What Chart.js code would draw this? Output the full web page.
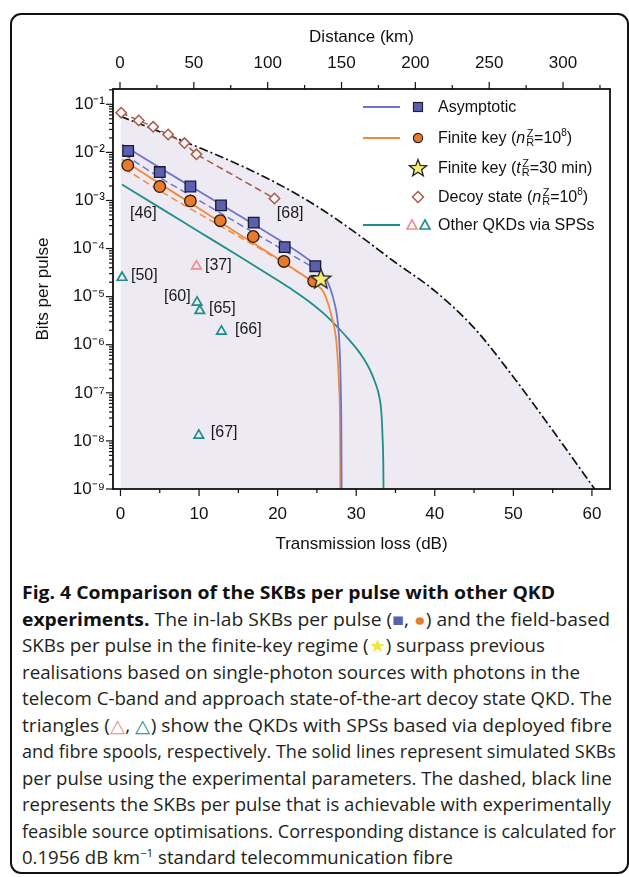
<!DOCTYPE html>
<html><head><meta charset="utf-8">
<script src="https://cdn.jsdelivr.net/npm/chart.js@4.4.0/dist/chart.umd.min.js"></script>
<style>
body{margin:0;background:#fff;width:629px;height:877px;overflow:hidden;position:relative;font-family:"Liberation Sans",Arial,sans-serif;color:#111;}
#frame{position:absolute;left:10px;top:13px;width:619px;height:861px;border:2px solid #111;border-radius:11px;box-sizing:border-box;}
#wrap{position:absolute;left:0;top:0;width:629px;height:570px;}
#legend{position:absolute;left:0;top:0;}
.lline{position:absolute;height:2px;width:37px;left:363px;}
.lmark{position:absolute;}
.ltext{position:absolute;left:438px;font-size:16px;white-space:nowrap;line-height:20px;color:#111;}
.ss{display:inline-block;vertical-align:middle;font-size:11px;line-height:9px;text-align:center;margin:0 0 0 1px;position:relative;top:-1px}
.ss span{display:block}
.ltext sup{font-size:10px;vertical-align:7px;line-height:0}
.cap{position:absolute;left:22px;font-family:"Open Sans",sans-serif;font-size:17.5px;white-space:nowrap;transform-origin:0 50%;color:#231f20;line-height:26px;height:26px;}
.cap b{font-weight:700;color:#111}
.cap sup{font-size:11px;vertical-align:7px;line-height:0}
</style></head>
<body>
<div id="frame"></div>
<div id="wrap"><canvas id="c" width="629" height="570"></canvas></div>
<div id="legend">
  <div class="lline" style="top:106px;background:#6D75C9"></div>
  <svg class="lmark" style="left:412px;top:101px" width="12" height="12"><rect x="1.5" y="1.5" width="9" height="9" fill="#5A5FAF" stroke="#222" stroke-width="1.2"/></svg>
  <div class="ltext" style="top:97px">Asymptotic</div>

  <div class="lline" style="top:137px;background:#F28A3C"></div>
  <svg class="lmark" style="left:412px;top:132px" width="12" height="12"><circle cx="6" cy="6" r="4.6" fill="#E9792C" stroke="#222" stroke-width="1.2"/></svg>
  <div class="ltext" style="top:128px">Finite key (<i>n</i><span class="ss"><span>Z</span><span>R</span></span>=10<sup>8</sup>)</div>

  <svg class="lmark" style="left:407px;top:157px" width="22" height="22"><polygon id="lstar" fill="#F4EE70" stroke="#222" stroke-width="1.3"/></svg>
  <div class="ltext" style="top:158px">Finite key (<i>t</i><span class="ss"><span>Z</span><span>R</span></span>=30 min)</div>

  <svg class="lmark" style="left:411px;top:190px" width="14" height="14"><polygon points="7,1.5 12.5,7 7,12.5 1.5,7" fill="#fff" stroke="#A65A4E" stroke-width="1.5"/></svg>
  <div class="ltext" style="top:187px">Decoy state (<i>n</i><span class="ss"><span>Z</span><span>R</span></span>=10<sup>8</sup>)</div>

  <div class="lline" style="top:224px;background:#1D8E89"></div>
  <svg class="lmark" style="left:405px;top:218px" width="28" height="14"><polygon points="7,2 12,11 2,11" fill="none" stroke="#EE8C94" stroke-width="1.6"/><polygon points="20,2 25,11 15,11" fill="none" stroke="#1D8E89" stroke-width="1.6"/></svg>
  <div class="ltext" style="top:215px">Other QKDs via SPSs</div>
</div>

<div class="cap" style="top:579px"><b>Fig. 4 Comparison of the SKBs per pulse with other QKD</b></div>
<div class="cap" style="top:605.5px"><b>experiments.</b> The in-lab SKBs per pulse (<span style="color:#5A5FAF">■</span>, <span style="color:#E9792C">●</span>) and the field-based</div>
<div class="cap" style="top:632px">SKBs per pulse in the finite-key regime (<span style="color:#F2E43C">★</span>) surpass previous</div>
<div class="cap" style="top:658.5px">realisations based on single-photon sources with photons in the</div>
<div class="cap" style="top:685px">telecom C-band and approach state-of-the-art decoy state QKD. The</div>
<div class="cap" style="top:711.5px">triangles (<span style="color:#EE8C94">△</span>, <span style="color:#1D8E89">△</span>) show the QKDs with SPSs based via deployed fibre</div>
<div class="cap" style="top:738px">and fibre spools, respectively. The solid lines represent simulated SKBs</div>
<div class="cap" style="top:764.5px">per pulse using the experimental parameters. The dashed, black line</div>
<div class="cap" style="top:791px">represents the SKBs per pulse that is achievable with experimentally</div>
<div class="cap" style="top:817.5px">feasible source optimisations. Corresponding distance is calculated for</div>
<div class="cap" style="top:844px">0.1956 dB km<sup>−1</sup> standard telecommunication fibre</div>

<script>
// ---------- DATA ----------
// Asymptotic in-lab SKBs (squares)
const asymLoss = [0.98, 5.0, 8.9, 12.8, 16.96, 20.9, 24.8];
const asymBits = [1.07e-2, 3.9e-3, 1.95e-3, 7.9e-4, 3.46e-4, 1.07e-4, 4.3e-5];
// Finite key in-lab SKBs (circles)
const finLoss = [0.93, 5.0, 8.9, 12.7, 16.9, 20.8, 24.6];
const finBits = [5.4e-3, 1.95e-3, 9.8e-4, 3.8e-4, 1.78e-4, 5.4e-5, 2.1e-5];
// Field-based finite key (star)
const starLoss = [25.5];
const starBits = [2.34e-5];
// Decoy state (diamonds)
const decoyLoss = [0.09, 2.33, 4.16, 6.07, 8.14, 9.67, 19.6];
const decoyBits = [6.7e-2, 4.6e-2, 3.4e-2, 2.35e-2, 1.56e-2, 9.1e-3, 1.1e-3];
// Other QKDs via SPSs: deployed fibre (pink) and fibre spools (teal)
const fieldTriLoss = [9.67];
const fieldTriBits = [4.3e-5];
const spoolTriLoss = [0.2, 9.75, 10.1, 12.85, 9.97];
const spoolTriBits = [2.5e-5, 7.6e-6, 5.1e-6, 1.9e-6, 1.3e-8];
// Simulated curves (solid)
const asymSimLoss = [0.2, 5, 10, 15, 20, 23, 25, 26, 26.7, 27.3, 27.6, 27.9, 28.05, 28.12, 28.15];
const asymSimBits = [1.45e-2, 4.79e-3, 1.55e-3, 5.0e-4, 1.58e-4, 7.6e-5, 4.2e-5, 2.6e-5, 1.5e-5, 6.6e-6, 3.5e-6, 7.9e-7, 1e-7, 1e-8, 3e-10];
const finSimLoss = [0.2, 5, 10, 15, 20, 23, 25, 25.9, 26.9, 27.5, 27.8, 27.95, 28.0];
const finSimBits = [7.1e-3, 2.24e-3, 6.8e-4, 2.04e-4, 6.2e-5, 2.95e-5, 1.74e-5, 1.2e-5, 3.7e-6, 1.05e-6, 1.6e-7, 1.6e-8, 3e-10];
const spsSimLoss = [0.2, 5, 10, 15, 20, 22, 24, 26, 27, 28, 29, 30, 31, 31.8, 32.4, 32.9, 33.2, 33.35, 33.45, 33.5];
const spsSimBits = [2.14e-3, 7.1e-4, 2.24e-4, 7.1e-5, 2.19e-5, 1.35e-5, 7.94e-6, 4.27e-6, 2.95e-6, 2.0e-6, 1.32e-6, 8.5e-7, 5.0e-7, 2.9e-7, 1.66e-7, 8.9e-8, 4.0e-8, 1.26e-8, 3.2e-9, 3e-10];
// Dashed experimental trends
const asymDashLoss = [0.5, 5, 10, 15, 20, 24.8];
const asymDashBits = [9.0e-3, 3.0e-3, 1.0e-3, 3.3e-4, 1.1e-4, 3.8e-5];
const finDashLoss = [0.5, 5, 10, 15, 20, 24.6];
const finDashBits = [4.6e-3, 1.6e-3, 5.3e-4, 1.8e-4, 6.0e-5, 2.0e-5];
// Achievable with source optimisations (dash-dot black)
const optLoss = [0, 5, 10, 15, 20, 25, 30, 35, 40, 45, 50, 55, 60, 61];
const optBits = [5.62e-2, 2.69e-2, 1.26e-2, 5.62e-3, 2.24e-3, 7.59e-4, 2.09e-4, 5.13e-5, 1.32e-5, 2.24e-6, 2.14e-7, 1.66e-8, 1.20e-9, 7.1e-10];
// Reference labels
const refText = ['[46]', '[68]', '[50]', '[37]', '[60]', '[65]', '[66]', '[67]'];
const refLoss = [1.21, 19.9, 1.34, 10.75, 5.54, 11.26, 14.57, 11.5];
const refBits = [5.4e-4, 5.4e-4, 2.74e-5, 4.43e-5, 1.0e-5, 5.6e-6, 2.05e-6, 1.47e-8];
// Axis ticks
const lossTicks = [0,5,10,15,20,25,30,35,40,45,50,55,60];
const lossLabels = [0,10,20,30,40,50,60];
const kmTicks = [0,25,50,75,100,125,150,175,200,225,250,275,300,325];
const kmLabels = [0,50,100,150,200,250,300];
const decades = [-9,-8,-7,-6,-5,-4,-3,-2,-1];

// ---------- helpers ----------
const pts = (xs, ys) => xs.map((x, i) => ({x, y: ys[i]}));
const supMap = {'-':'⁻','0':'⁰','1':'¹','2':'²','3':'³','4':'⁴','5':'⁵','6':'⁶','7':'⁷','8':'⁸','9':'⁹'};
const isPow10 = v => Math.abs(Math.log10(v) - Math.round(Math.log10(v))) < 1e-9;

function starPath(cx, cy, R, r) {
  const p = [];
  for (let i = 0; i < 10; i++) {
    const rr = i % 2 ? r : R, a = -Math.PI / 2 + i * Math.PI / 5;
    p.push([cx + rr * Math.cos(a), cy + rr * Math.sin(a)]);
  }
  return p;
}
document.getElementById('lstar').setAttribute('points', starPath(11, 11.5, 9, 3.8).map(p => p.join(',')).join(' '));
function starCanvas() {
  const c = document.createElement('canvas'); c.width = 26; c.height = 26;
  const g = c.getContext('2d');
  g.beginPath();
  starPath(13, 13.5, 10.5, 4.4).forEach(([x, y], i) => i ? g.lineTo(x, y) : g.moveTo(x, y));
  g.closePath(); g.fillStyle = '#F4EE70'; g.fill();
  g.lineWidth = 1.3; g.strokeStyle = '#222'; g.stroke();
  return c;
}

const framePlugin = {
  id: 'frameTicks',
  afterDraw(chart) {
    const ctx = chart.ctx, a = chart.chartArea;
    ctx.save();
    ctx.strokeStyle = '#111'; ctx.lineWidth = 1.2;
    const line = (x1, y1, x2, y2) => { ctx.beginPath(); ctx.moveTo(x1, y1); ctx.lineTo(x2, y2); ctx.stroke(); };
    const ys = chart.scales.y;
    ys.ticks.forEach(t => {
      const p = ys.getPixelForValue(t.value);
      if (p < a.top - 0.5 || p > a.bottom + 0.5) return;
      const L = isPow10(t.value) ? 7 : 4;
      line(a.left - L, p, a.left, p);
    });
    const xs = chart.scales.x;
    lossTicks.forEach(v => {
      const p = xs.getPixelForValue(v);
      line(p, a.bottom, p, a.bottom + (lossLabels.includes(v) ? 7 : 4));
    });
    const x2 = chart.scales.x2;
    kmTicks.forEach(v => {
      const p = x2.getPixelForValue(v);
      if (p > a.right) return;
      line(p, a.top, p, a.top - (kmLabels.includes(v) ? 7 : 4));
    });
    ctx.lineWidth = 1.8;
    ctx.strokeRect(a.left, a.top, a.right - a.left, a.bottom - a.top);
    // reference labels
    ctx.fillStyle = '#1a1a1a';
    ctx.font = '16px "Liberation Sans", Arial, sans-serif';
    ctx.textAlign = 'left'; ctx.textBaseline = 'middle';
    refText.forEach((t, i) => {
      ctx.fillText(t, xs.getPixelForValue(refLoss[i]), ys.getPixelForValue(refBits[i]));
    });
    ctx.restore();
  }
};

Chart.defaults.font.family = '"Liberation Sans", Arial, sans-serif';
Chart.defaults.color = '#111';

const lineDs = (xs, ys, color, extra) => Object.assign({
  data: pts(xs, ys), showLine: true, borderColor: color, borderWidth: 1.8,
  pointRadius: 0, pointHoverRadius: 0, fill: false, cubicInterpolationMode: 'monotone'
}, extra || {});

new Chart(document.getElementById('c'), {
  type: 'scatter',
  data: {
    datasets: [
      lineDs(optLoss, optBits, '#111', {order: 20, borderDash: [9, 3, 2, 3], borderWidth: 1.7, fill: 'start', backgroundColor: '#EEEAF3'}),
      lineDs(spsSimLoss, spsSimBits, '#1D8E89', {order: 18}),
      lineDs(decoyLoss, decoyBits, '#A65A4E', {order: 17, borderDash: [7, 4], borderWidth: 1.5, cubicInterpolationMode: 'default', tension: 0}),
      lineDs(asymDashLoss, asymDashBits, '#6D75C9', {order: 16, borderDash: [7, 4], borderWidth: 1.5}),
      lineDs(finDashLoss, finDashBits, '#F28A3C', {order: 16, borderDash: [7, 4], borderWidth: 1.5}),
      lineDs(finSimLoss, finSimBits, '#F28A3C', {order: 15}),
      lineDs(asymSimLoss, asymSimBits, '#6D75C9', {order: 14}),
      {data: pts(spoolTriLoss, spoolTriBits), order: 12, pointStyle: 'triangle', pointRadius: 5.5, borderWidth: 1.7, borderColor: '#1D8E89', backgroundColor: 'rgba(0,0,0,0)'},
      {data: pts(fieldTriLoss, fieldTriBits), order: 12, pointStyle: 'triangle', pointRadius: 5.5, borderWidth: 1.7, borderColor: '#EE8C94', backgroundColor: 'rgba(0,0,0,0)'},
      {data: pts(decoyLoss, decoyBits), order: 11, pointStyle: 'rectRot', pointRadius: 5.2, borderWidth: 1.5, borderColor: '#A65A4E', backgroundColor: '#FBF8F8'},
      {data: pts(asymLoss, asymBits), order: 10, pointStyle: 'rect', pointRadius: 7.5, borderWidth: 1.3, borderColor: '#1b1b2e', backgroundColor: '#5A5FAF'},
      {data: pts(finLoss, finBits), order: 9, pointStyle: 'circle', pointRadius: 5.8, borderWidth: 1.3, borderColor: '#2a1a10', backgroundColor: '#E9792C'},
      {data: pts(starLoss, starBits), order: 5, pointStyle: starCanvas(), pointRadius: 10}
    ]
  },
  options: {
    responsive: false, animation: false, events: [],
    layout: {padding: {left: 0, right: 19, top: 0, bottom: 0}},
    plugins: {legend: {display: false}, tooltip: {enabled: false}},
    scales: {
      x: {
        type: 'linear', position: 'bottom', min: -0.95, max: 62.3,
        afterBuildTicks: s => { s.ticks = lossTicks.map(v => ({value: v})); },
        afterFit: s => { s.height = 81; },
        ticks: {autoSkip: false, maxRotation: 0, padding: 15, font: {size: 17}, color: '#111',
                callback: v => lossLabels.includes(v) ? String(v) : ''},
        grid: {display: false, drawTicks: false}, border: {display: false},
        title: {display: true, text: 'Transmission loss (dB)', font: {size: 17}, color: '#111', padding: {top: 0, bottom: 15}}
      },
      x2: {
        type: 'linear', position: 'top', min: -4.74, max: 331.8,
        afterBuildTicks: s => { s.ticks = kmTicks.map(v => ({value: v})); },
        afterFit: s => { s.height = 89; },
        ticks: {autoSkip: false, maxRotation: 0, padding: 15, font: {size: 17}, color: '#111',
                callback: v => kmLabels.includes(v) ? String(v) : ''},
        grid: {display: false, drawTicks: false}, border: {display: false},
        title: {display: true, text: 'Distance (km)', font: {size: 17}, color: '#111', padding: {top: 27, bottom: 0}}
      },
      y: {
        type: 'logarithmic', position: 'left', min: 1e-9, max: 0.208,
        afterBuildTicks: s => {
          const t = [];
          decades.forEach(d => { for (let m = 1; m <= 9; m++) { const v = m * Math.pow(10, d); if (v <= 0.208) t.push({value: m === 1 ? Math.pow(10, d) : v}); } });
          s.ticks = t;
        },
        afterFit: s => { s.width = 113; },
        ticks: {autoSkip: false, padding: 8, font: {size: 17}, color: '#111',
                callback: v => { if (!isPow10(v)) return ''; const e = String(Math.round(Math.log10(v))); return '10' + e.split('').map(c => supMap[c]).join(''); }},
        grid: {display: false, drawTicks: false}, border: {display: false},
        title: {display: true, text: 'Bits per pulse', font: {size: 17}, color: '#111', padding: {top: 33, bottom: 0}}
      }
    }
  },
  plugins: [framePlugin]
});

// fit caption lines to reference widths
const capRight = [555, 610, 545, 580, 612, 612, 616, 612, 611, 616, 453];
document.querySelectorAll('.cap').forEach((el, i) => {
  const w = el.getBoundingClientRect().width;
  el.style.transform = 'scaleX(' + ((capRight[i] - 22) / w).toFixed(4) + ')';
});
</script>
</body></html>
